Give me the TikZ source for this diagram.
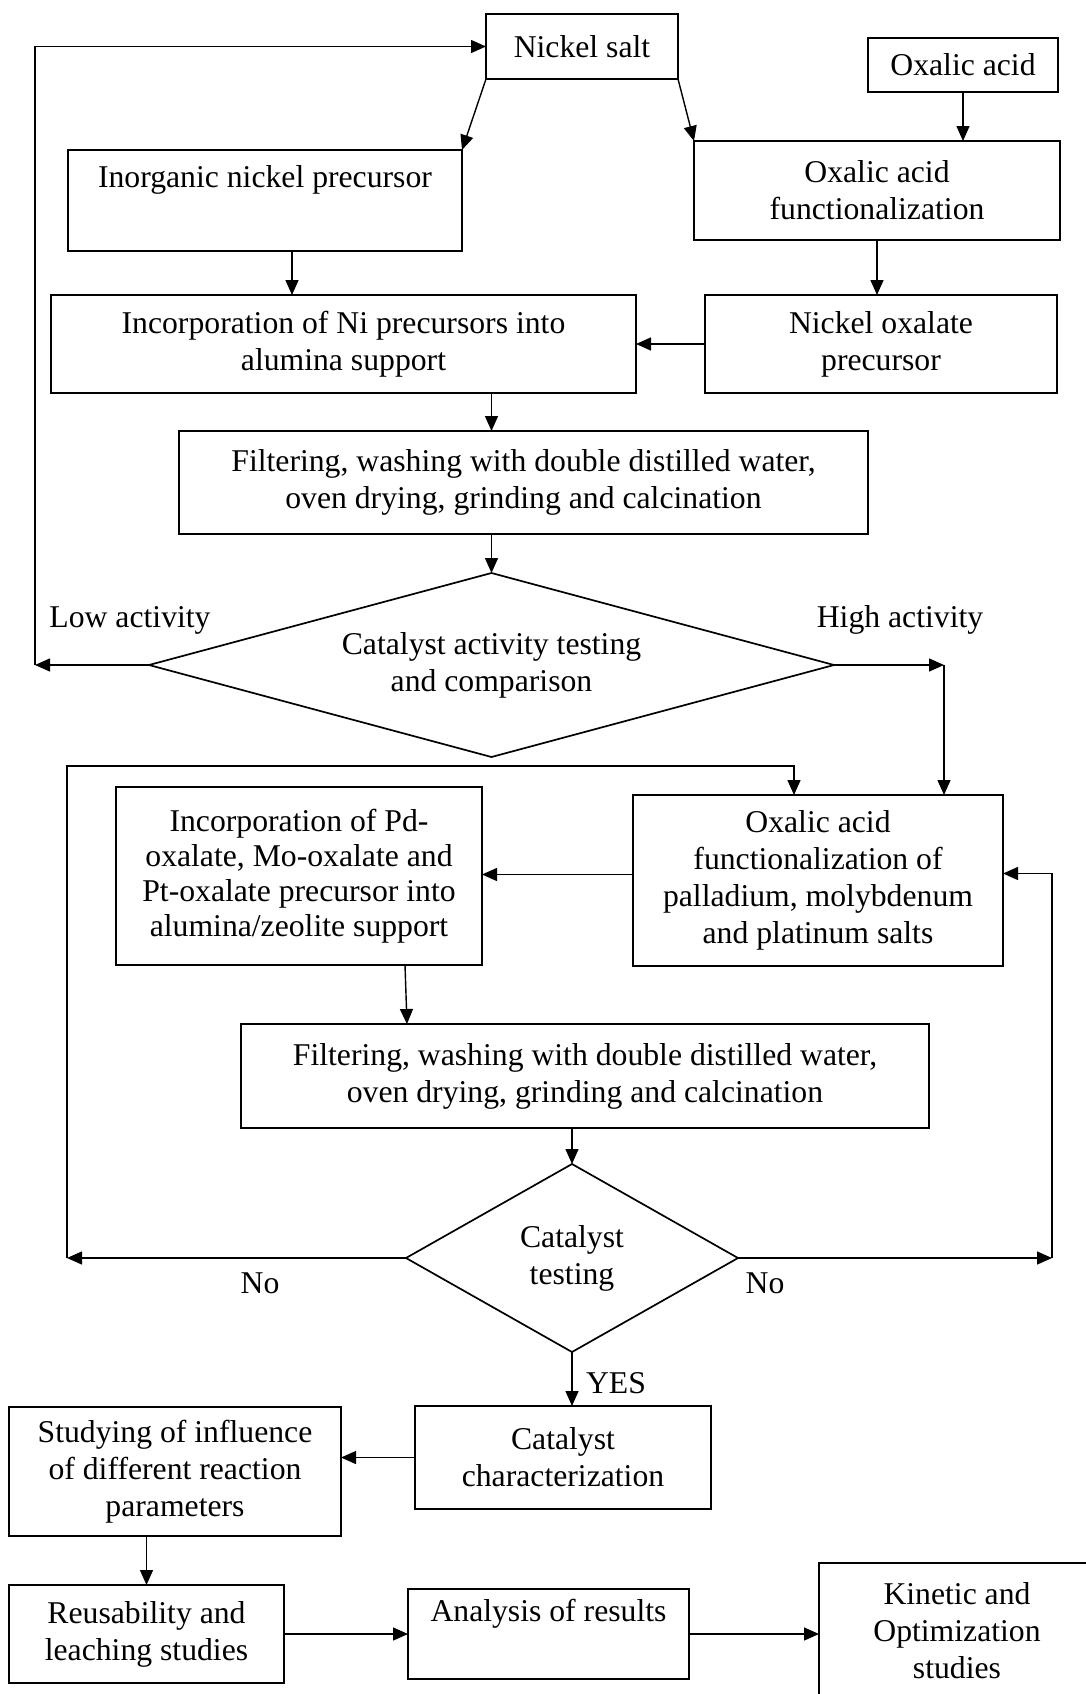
\documentclass[tikz,border=0pt]{standalone}
\usepackage{fontspec}
\setmainfont{Liberation Serif}
\usetikzlibrary{arrows.meta,shapes.geometric}
\begin{document}
\begin{tikzpicture}[x=1pt,y=-1pt,
  every node/.style={font=\fontsize{31.7}{37}\selectfont, outer sep=0pt, inner sep=0pt},
  box/.style={draw, line width=1.7pt, rectangle, align=center},
  dia/.style={draw, line width=1.7pt, diamond, align=center},
  arr/.style={line width=1.4pt, -{Triangle[length=15pt,width=13pt]}},
  ln/.style={line width=1.4pt}]
\useasboundingbox (0,0) rectangle (1085,1694);

% ---------- boxes ----------
\node[box, minimum width=192, minimum height=65] (ns) at (582,46.5) {Nickel salt};
\node[box, minimum width=190, minimum height=54] (oa) at (963,65) {Oxalic acid};
\node[box, minimum width=394, minimum height=101] (inorg) at (265,200.5) {Inorganic nickel precursor\\\strut};
\node[box, minimum width=366, minimum height=99] (of) at (877,190.5) {Oxalic acid\\functionalization};
\node[box, minimum width=585, minimum height=98] (incni) at (343.5,344) {Incorporation of Ni precursors into\\alumina support};
\node[box, minimum width=352, minimum height=98] (nox) at (881,344) {Nickel oxalate\\precursor};
\node[box, minimum width=689, minimum height=103] (filt1) at (523.5,482.5) {Filtering, washing with double distilled water,\\oven drying, grinding and calcination};
\node[dia, minimum width=685, minimum height=184, shape aspect=3.72] (d1) at (491.5,665) {Catalyst activity testing\\and comparison};
\node (low) at (130,620) {Low activity};
\node (high) at (900,620) {High activity};

\node[box, minimum width=366, minimum height=178, font=\fontsize{31.7}{35}\selectfont] (pd) at (299,876) {Incorporation of Pd-\\oxalate, Mo-oxalate and\\Pt-oxalate precursor into\\alumina/zeolite support};
\node[box, minimum width=370, minimum height=171] (of2) at (818,880.5) {Oxalic acid\\functionalization of\\palladium, molybdenum\\and platinum salts};
\node[box, minimum width=688, minimum height=104] (filt2) at (585,1076) {Filtering, washing with double distilled water,\\oven drying, grinding and calcination};
\node[dia, minimum width=332, minimum height=188, shape aspect=1.77] (d2) at (572,1258) {Catalyst\\testing};
\node (nol-lbl) at (260,1283) {No};
\node (nor-lbl) at (765,1283) {No};
\node (yes) at (616,1383) {YES};

\node[box, minimum width=296, minimum height=103] (cc) at (563,1457.5) {Catalyst\\characterization};
\node[box, minimum width=332, minimum height=129] (study) at (175,1471.5) {Studying of influence\\of different reaction\\parameters};
\node[box, minimum width=275, minimum height=98] (reuse) at (146.5,1634) {Reusability and\\leaching studies};
\node[box, minimum width=281, minimum height=90] (anal) at (548.5,1634) {Analysis of results\\\strut};
\node[box, minimum width=276, minimum height=136] (kin) at (957,1631) {Kinetic and\\Optimization\\studies};

% ---------- corner coordinates ----------
\coordinate (lowc) at (35,665);
\coordinate (hc) at (944,665);
\coordinate (nol) at (67,1258);
\coordinate (tr2) at (794,766);
\coordinate (nor) at (1052,1258);

% ---------- connectors ----------
\draw[arr] (ns.south west) -- (inorg.north east);
\draw[arr] (ns.south east) -- (of.north west);
\draw[arr] (oa.south) -- (oa.south |- of.north);
\draw[arr] ([xshift=27pt]inorg.south) -- ([xshift=27pt]inorg.south |- incni.north);
\draw[arr] (of.south) -- (of.south |- nox.north);
\draw[arr] (nox.west) -- (nox.west -| incni.east);
\draw[arr] (d1.north |- incni.south) -- (d1.north |- filt1.north);
\draw[arr] (d1.north |- filt1.south) -- (d1.north);

\draw[arr] (d1.west) -- (lowc);
\draw[arr] (lowc) |- (ns.west);
\draw[arr] (d1.east) -- (hc);
\draw[arr] (hc) -- (hc |- of2.north);

\draw[arr] ([yshift=6pt]of2.west) -- ([yshift=6pt]of2.west -| pd.east);
\draw[arr] ([xshift=106pt]pd.south) -- ([xshift=-178pt]filt2.north);
\draw[arr] (d2.north |- filt2.south) -- (d2.north);

\draw[arr] (d2.west) -- (nol);
\draw[arr] (nol) |- (tr2) -- (tr2 |- of2.north);
\draw[arr] (d2.east) -- (nor);
\draw[arr] (nor) |- ([yshift=7pt]of2.east);

\draw[arr] (d2.south) -- (d2.south |- cc.north);
\draw[arr] (cc.west) -- (cc.west -| study.east);
\draw[arr] (reuse.north |- study.south) -- (reuse.north);
\draw[arr] (reuse.east) -- (reuse.east -| anal.west);
\draw[arr] (anal.east) -- (anal.east -| kin.west);
\end{tikzpicture}
\end{document}
